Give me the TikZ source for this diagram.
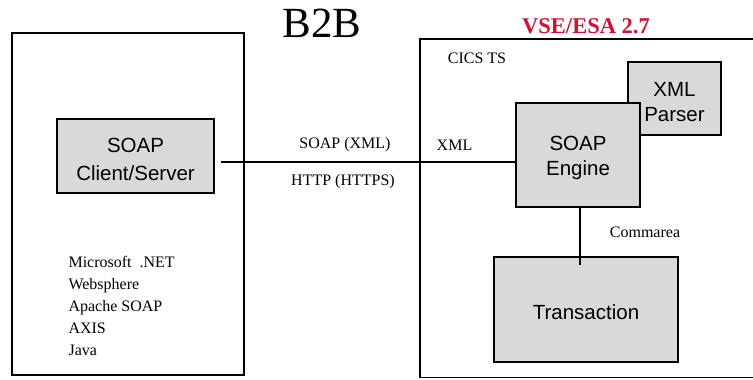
\documentclass[tikz,border=0pt]{standalone}
\usepackage{fontspec}
\setmainfont{Liberation Serif}
\setsansfont{Liberation Sans}
\usepackage{tikz}
\usetikzlibrary{calc}
\definecolor{boxgray}{RGB}{217, 217, 217}
\definecolor{vsered}{RGB}{210, 16, 52}
\newcommand{\captop}{\rule{0pt}{20.7pt}}

\begin{document}
\begin{tikzpicture}[x=1pt, y=-1pt,
    compbox/.style={draw, line width=1.5pt, fill=boxgray, inner sep=0pt, align=center,
      font=\sffamily\fontsize{20.5}{25}\selectfont},
    lbl/.style={font=\fontsize{16}{22}\selectfont},
    link/.style={draw, line width=1.5pt}]
    \useasboundingbox (0,0) rectangle (753,380);
    \clip (0,0) rectangle (753,380);

    % Titel und Rahmen
    \node[font=\fontsize{43}{45}\selectfont] (b2b) at (322, 23) {B2B};
    \node[font=\bfseries\fontsize{22.5}{25}\selectfont, text=vsered] (vse) at (586, 26) {VSE/ESA 2.7};
    \draw[line width=1.5pt] (12, 33) rectangle (244, 375);
    \draw[line width=1.5pt] (420, 39) rectangle (770, 377.5);
    \node[lbl] (cics) at (477, 58) {CICS TS};

    % Client-Seite
    \node[compbox, minimum width=157pt, minimum height=74pt, font=\sffamily\fontsize{20.5}{28}\selectfont]
      (client) at (135.5, 156) {\captop SOAP\\Client/Server};
    \node[lbl, anchor=west, align=left] (impl) at (65, 306)
      {Microsoft\ \ .NET\\Websphere\\Apache SOAP\\AXIS\\Java};

    % CICS-Seite
    \node[compbox, minimum width=93pt, minimum height=73pt] (parser) at (674.5, 98.5) {\captop XML\\Parser};
    \node[compbox, minimum width=124pt, minimum height=104pt] (engine) at (578, 155) {\captop SOAP\\Engine};
    \node[compbox, minimum width=184pt, minimum height=105pt] (trans) at (586, 309.5) {\captop Transaction};

    % Verbindungen
    \coordinate (linkstart) at ([shift={(6,6)}]client.east);
    \draw[link] (linkstart) -- (linkstart -| engine.west);
    \node[lbl] (soapxml) at (345, 145) {SOAP (XML)};
    \node[lbl] (http) at (343, 182) {HTTP (HTTPS)};
    \node[lbl] (xml) at (454.5, 145) {XML};

    \coordinate (tap) at ([xshift=2pt, yshift=-9pt]engine.south |- trans.north);
    \draw[link] ([xshift=2pt]engine.south) -- (tap);
    \node[lbl] (commarea) at (645, 232) {Commarea};
\end{tikzpicture}
\end{document}
